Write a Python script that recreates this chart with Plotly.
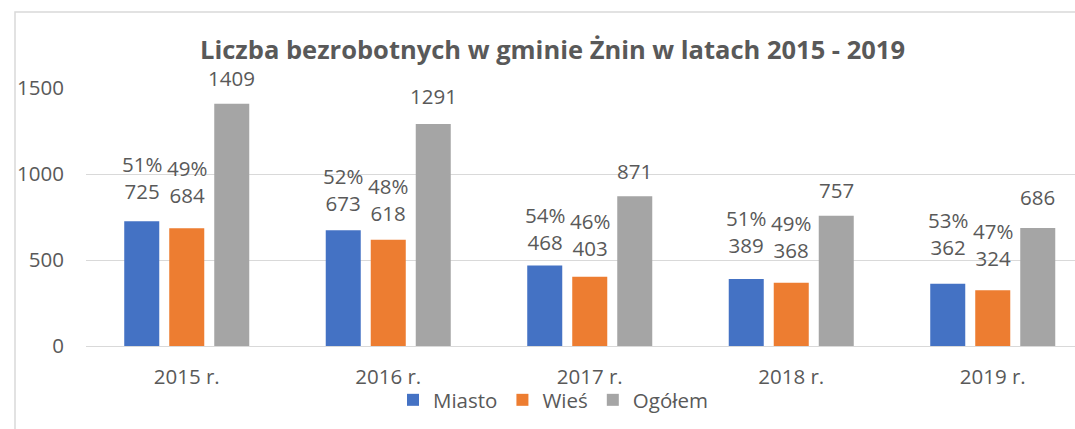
import plotly.graph_objects as go

# ---- data ----
categories = ["2015 r.", "2016 r.", "2017 r.", "2018 r.", "2019 r."]
miasto = [725, 673, 468, 389, 362]
wies = [684, 618, 403, 368, 324]
ogolem = [1409, 1291, 871, 757, 686]
miasto_pct = ["51%", "52%", "54%", "51%", "53%"]
wies_pct = ["49%", "48%", "46%", "49%", "47%"]
y_ticks = [0, 500, 1000, 1500]

# ---- styling ----
C_BLUE = "#4472C4"
C_ORANGE = "#ED7D31"
C_GRAY = "#A5A5A5"
TXT = "#595959"
GRID = "#D9D9D9"
FONT = "Open Sans"
FS = 20.5

# label lifts above bar tops (px), per series
lift_m = [15, 12, 9, 19, 22]
lift_w = [18, 12, 14, 18, 17]
lift_o = [11, 13, 10, 11, 16]
SLOT = 45  # px offset between grouped bars

fig = go.Figure()
for name, vals, col in [("Miasto", miasto, C_BLUE), ("Wieś", wies, C_ORANGE), ("Ogółem", ogolem, C_GRAY)]:
    fig.add_trace(go.Bar(x=categories, y=vals, name=name, marker=dict(color=col, line=dict(width=0)),
                         hoverinfo="skip"))

annotations = []
for i, c in enumerate(categories):
    annotations.append(dict(x=c, y=miasto[i], xref="x", yref="y", text=f"{miasto_pct[i]}<br>{miasto[i]}",
                            showarrow=False, xshift=-SLOT, yshift=lift_m[i], yanchor="bottom"))
    annotations.append(dict(x=c, y=wies[i], xref="x", yref="y", text=f"{wies_pct[i]}<br>{wies[i]}",
                            showarrow=False, xshift=0, yshift=lift_w[i], yanchor="bottom"))
    annotations.append(dict(x=c, y=ogolem[i], xref="x", yref="y", text=f"{ogolem[i]}",
                            showarrow=False, xshift=SLOT, yshift=lift_o[i], yanchor="bottom"))
for a in annotations:
    a["font"] = dict(family=FONT, size=FS, color=TXT)
    a["borderpad"] = 0

plot_left, plot_right, plot_top, plot_bottom = 86, 1075, 88, 346
ph = plot_bottom - plot_top
pw = plot_right - plot_left

fig.update_layout(
    width=1075, height=429,
    margin=dict(l=plot_left, r=1075 - plot_right, t=plot_top, b=429 - plot_bottom, autoexpand=False),
    paper_bgcolor="white", plot_bgcolor="white",
    barmode="group", bargap=0.33, bargroupgap=0.222,
    font=dict(family=FONT, size=FS, color=TXT),
    title=dict(text="Liczba bezrobotnych w gminie Żnin w latach 2015 - 2019",
               x=0.514, xanchor="center", y=1 - 50 / 429, yanchor="middle",
               font=dict(family=FONT, size=25.5, color=TXT, weight="bold")),
    xaxis=dict(type="category", range=[-0.5, -0.5 + pw / 201.5], showgrid=False, showline=False,
               ticks="", ticklabelstandoff=16, tickfont=dict(family=FONT, size=FS, color=TXT)),
    yaxis=dict(range=[0, 1500], tickvals=y_ticks, showgrid=True, gridcolor=GRID, gridwidth=1.3,
               zeroline=True, zerolinecolor=GRID, zerolinewidth=1.3, showline=False, ticks="",
               ticklabelstandoff=21, tickfont=dict(family=FONT, size=FS, color=TXT)),
    legend=dict(orientation="h", x=(553 - plot_left) / pw, xanchor="center",
                y=-(400 - plot_bottom) / ph, yanchor="middle",
                font=dict(family=FONT, size=FS, color=TXT),
                bgcolor="rgba(0,0,0,0)"),
    annotations=annotations,
    shapes=[dict(type="rect", xref="paper", yref="paper",
                 x0=(15 - plot_left) / pw, x1=1.2, y0=-1.0, y1=(plot_bottom - 12) / ph,
                 line=dict(color=GRID, width=1.5), fillcolor="rgba(0,0,0,0)", layer="below")],
    showlegend=True,
)

fig.write_html("out.html", config={"displayModeBar": False},
               post_script="document.body.style.margin='0';")
